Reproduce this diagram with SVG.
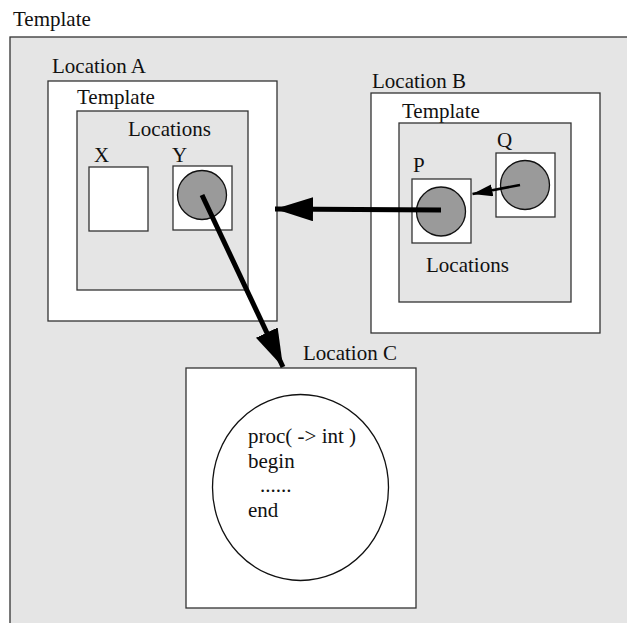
<svg xmlns="http://www.w3.org/2000/svg" width="627" height="623" viewBox="0 0 627 623">
  <style>
    text { font-family: "Liberation Serif", "Times New Roman", serif; font-size: 21px; fill: #111; }
    .frame { fill: #e5e5e5; stroke: #333; stroke-width: 1.3; }
    .box { fill: #ffffff; stroke: #333; stroke-width: 1.3; }
    .dot { fill: #9a9a9a; stroke: #111; stroke-width: 1.3; }
    .thick { stroke: #000; stroke-width: 5; fill: none; }
    .thin { stroke: #000; stroke-width: 2.5; fill: none; }
  </style>
  <defs>
    <marker id="headBig" markerUnits="userSpaceOnUse" markerWidth="40" markerHeight="26" refX="38" refY="12" orient="auto">
      <path d="M0,0 L38,12 L0,24 Z" fill="#000"/>
    </marker>
    <marker id="headSmall" markerUnits="userSpaceOnUse" markerWidth="22" markerHeight="14" refX="20" refY="6" orient="auto">
      <path d="M0,0 L20,6 L0,12 Z" fill="#000"/>
    </marker>
  </defs>

  <rect width="627" height="623" fill="#ffffff"/>

  <!-- outer template frame -->
  <g id="template">
    <text x="13" y="26">Template</text>
    <rect class="frame" x="10" y="37" width="630" height="600"/>
  </g>

  <!-- location A with nested template -->
  <g id="location-a">
    <text x="52" y="73">Location A</text>
    <rect class="box" x="48" y="81" width="229" height="240"/>
    <text x="77" y="104">Template</text>
    <rect class="frame" x="77" y="111" width="171" height="179"/>
    <text x="128" y="136">Locations</text>
  </g>
  <g id="loc-x">
    <text x="94" y="162">X</text>
    <rect class="box" x="89" y="167" width="59" height="64"/>
  </g>
  <g id="loc-y">
    <text x="172" y="162">Y</text>
    <rect class="box" x="173" y="166" width="59" height="64"/>
    <circle class="dot" cx="202" cy="195" r="24.5"/>
  </g>

  <!-- location B with nested template -->
  <g id="location-b">
    <text x="372" y="88">Location B</text>
    <rect class="box" x="371" y="93" width="229" height="240"/>
    <text x="402" y="118">Template</text>
    <rect class="frame" x="399" y="123" width="172" height="179"/>
    <text x="426" y="272">Locations</text>
  </g>
  <g id="loc-q">
    <text x="497" y="147">Q</text>
    <rect class="box" x="496" y="153" width="59" height="64"/>
    <circle class="dot" cx="525" cy="185" r="24.5"/>
  </g>
  <g id="loc-p">
    <text x="413" y="172">P</text>
    <rect class="box" x="412" y="179" width="59" height="64"/>
    <circle class="dot" cx="441" cy="211.5" r="24.5"/>
  </g>

  <!-- location C holding a procedure -->
  <g id="location-c">
    <text x="303" y="360">Location C</text>
    <rect class="box" x="186" y="368" width="230" height="240"/>
    <ellipse cx="300.5" cy="487.5" rx="88" ry="93" fill="#ffffff" stroke="#111" stroke-width="1.3"/>
    <text x="248" y="443">proc( -&gt; int )</text>
    <text x="248" y="468">begin</text>
    <text x="260" y="492">......</text>
    <text x="248" y="517">end</text>
  </g>

  <!-- references between locations -->
  <g id="connectors">
    <line class="thick" x1="441" y1="210" x2="275" y2="209" marker-end="url(#headBig)"/>
    <line class="thick" x1="202" y1="195" x2="283" y2="367" marker-end="url(#headBig)"/>
    <line class="thin" x1="520" y1="185" x2="472.5" y2="194" marker-end="url(#headSmall)"/>
  </g>
</svg>
